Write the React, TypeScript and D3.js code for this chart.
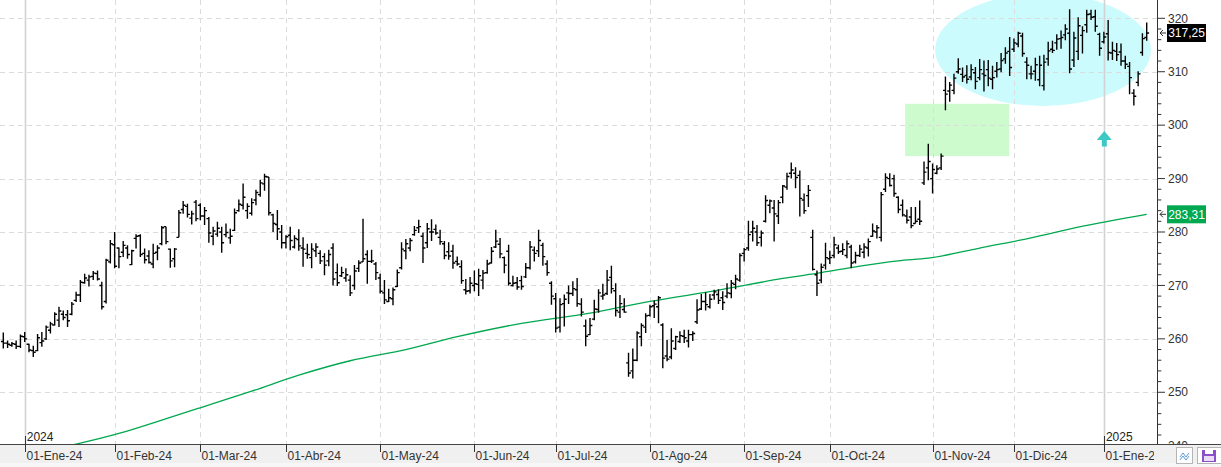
import React from 'react';
import * as d3 from 'd3';

// [open, high, low, close] per trading day
const BARS: number[][] = [
  [259.5,261.2,258.2,259.2],[259.2,259.7,258.3,259.0],[258.8,259.4,258.5,259.1],[259.0,259.7,258.1,258.6],[258.6,260.8,258.3,260.5],
  [260.4,261.3,259.4,260.0],[259.0,259.1,257.5,257.9],[257.8,258.7,256.6,257.5],[257.8,260.9,257.7,260.2],[259.3,261.3,258.5,259.6],
  [260.0,262.5,259.8,262.2],[261.6,263.2,261.0,262.8],[262.6,265.0,262.5,264.6],[263.5,266.0,262.2,265.2],[264.6,265.3,263.5,264.0],
  [264.5,265.4,262.2,263.4],[264.6,266.9,264.4,266.5],[267.2,268.8,266.9,268.2],[268.2,271.0,266.9,270.6],[270.5,272.2,270.3,271.4],
  [271.0,272.0,269.8,271.6],[271.7,272.7,271.0,272.3],[272.2,272.8,270.9,271.2],[270.0,270.7,265.5,266.0],[267.0,275.0,266.6,274.7],
  [274.4,278.5,274.1,277.8],[277.6,280.0,273.2,273.6],[277.0,277.1,273.2,275.4],[276.2,278.3,275.3,277.5],[277.0,277.5,275.0,275.8],
  [273.9,276.7,273.8,276.5],[278.8,279.6,276.9,279.2],[279.3,279.6,275.3,275.8],[276.0,276.9,274.1,274.8],[275.5,276.6,274.1,274.3],
  [274.0,277.8,273.2,276.0],[276.2,277.5,274.7,277.0],[277.8,281.1,277.5,280.8],[281.0,281.0,277.7,278.2],[276.8,276.9,273.3,274.6],
  [275.0,277.0,273.4,276.8],[279.0,284.1,279.0,283.6],[284.2,285.8,283.4,285.0],[284.8,285.3,282.7,283.3],[282.6,284.0,281.4,283.4],
  [285.6,286.0,282.0,282.5],[285.0,285.4,282.2,283.0],[283.0,284.7,281.3,284.0],[282.5,282.8,278.0,279.8],[279.2,281.0,277.5,280.2],
  [279.6,281.9,279.1,280.7],[280.0,281.0,276.1,278.0],[279.5,281.6,279.0,279.9],[278.9,280.6,277.8,279.2],[280.3,284.4,280.2,283.6],
  [284.0,286.1,283.8,285.2],[285.0,289.1,284.2,286.5],[284.0,285.4,282.5,284.8],[283.5,286.3,283.1,285.5],[286.0,287.9,285.0,287.4],
  [287.0,289.8,286.6,289.2],[289.0,290.9,287.7,290.4],[290.3,290.3,283.1,283.6],[283.2,283.4,280.0,281.6],[281.4,284.1,278.5,280.6],
  [280.0,281.3,276.9,278.0],[278.0,279.4,276.9,279.1],[279.4,281.0,276.6,278.4],[277.2,279.4,276.9,278.8],[278.6,280.5,276.5,277.4],
  [277.0,279.0,273.5,276.8],[276.0,277.8,275.0,275.8],[275.2,277.9,273.2,276.8],[276.5,277.9,275.3,277.2],[276.0,276.6,274.0,274.6],
  [275.4,276.0,271.9,273.8],[274.6,276.7,273.6,275.8],[277.0,277.9,270.0,271.2],[272.4,274.1,269.9,270.5],[271.8,273.5,271.6,272.4],
  [271.4,273.2,270.7,272.0],[271.0,271.9,268.0,268.6],[270.0,273.8,269.2,272.7],[273.2,274.7,272.5,274.2],[274.4,282.5,274.4,275.0],
  [275.8,276.6,270.3,274.5],[274.5,276.7,274.2,274.6],[274.0,274.4,271.0,272.4],[271.4,272.2,268.5,268.9],[268.6,271.0,266.5,267.3],
  [267.0,269.4,266.9,267.7],[267.5,269.6,266.3,269.2],[269.8,273.0,269.7,272.4],[273.3,278.1,273.0,276.8],[276.5,278.7,274.9,277.8],
  [277.0,278.9,276.4,278.4],[279.5,281.1,279.3,280.3],[280.8,282.3,279.8,281.0],[279.2,279.9,274.2,277.0],[278.0,281.7,277.0,280.6],
  [280.0,282.4,278.3,280.0],[280.5,281.4,279.5,279.8],[279.0,280.4,277.6,278.2],[277.8,278.3,274.9,275.6],[276.3,278.1,274.8,275.5],
  [276.4,277.6,273.1,274.2],[274.5,275.4,273.7,274.0],[273.5,274.7,270.3,270.9],[269.2,271.2,268.3,268.9],[269.0,271.6,268.5,270.4],
  [270.0,272.8,268.9,270.3],[270.2,273.1,268.0,271.8],[271.0,272.9,269.3,272.3],[272.4,274.8,272.2,274.0],[274.2,277.2,274.1,276.4],
  [277.2,280.4,277.0,278.3],[277.7,278.9,275.1,275.9],[275.2,275.4,272.3,273.8],[276.4,277.6,270.0,270.4],[270.0,271.8,269.8,270.4],
  [270.5,271.6,269.2,269.7],[270.9,271.8,269.2,269.8],[271.6,274.2,271.4,273.3],[273.3,278.3,273.0,277.2],[276.6,277.3,274.5,276.0],
  [276.5,280.4,275.3,278.4],[277.5,278.0,273.7,275.4],[274.0,274.7,271.8,272.4],[270.4,270.8,266.4,268.0],[267.5,268.6,261.2,262.0],
  [262.2,267.6,261.2,266.4],[266.6,268.3,262.3,267.4],[268.6,270.0,266.5,268.5],[268.5,270.8,268.0,269.4],[269.2,271.4,266.0,266.6],
  [266.5,267.6,264.2,265.0],[262.4,263.6,258.6,260.5],[260.8,263.9,260.7,262.5],[263.7,267.3,263.5,265.6],[265.5,269.3,264.9,268.6],
  [268.0,270.3,267.3,268.2],[268.5,272.9,268.2,271.0],[271.5,273.7,268.5,269.4],[269.0,270.4,264.2,265.3],[265.0,268.2,263.9,266.6],
  [265.5,267.6,264.9,265.0],[255.5,257.4,252.9,253.6],[254.0,258.2,252.6,256.0],[256.0,261.4,255.8,261.1],[260.4,262.9,258.6,262.5],
  [262.2,264.8,261.1,264.3],[264.4,266.4,264.2,266.0],[266.2,267.2,263.9,266.5],[266.0,268.0,262.9,267.7],[262.6,262.9,254.5,256.4],
  [256.8,259.8,255.8,256.2],[256.6,262.0,256.2,259.6],[258.2,260.6,257.9,260.4],[259.5,261.4,259.2,260.6],[260.5,261.7,259.2,260.2],
  [259.6,261.7,258.4,260.8],[260.8,261.4,259.6,261.0],[263.2,267.4,262.8,265.4],[265.6,268.4,265.4,267.0],[267.0,268.7,265.3,266.4],
  [266.0,268.4,265.7,267.4],[268.2,269.2,267.3,268.8],[268.3,269.3,266.5,267.2],[267.7,268.9,265.4,266.8],[268.0,270.4,267.6,268.6],
  [268.5,271.0,267.6,270.4],[270.2,272.0,269.3,271.2],[271.0,276.0,270.7,275.6],[276.0,277.0,274.5,276.7],[277.0,282.1,276.5,279.5],
  [280.0,282.1,278.2,280.7],[280.0,281.3,277.4,278.0],[279.0,280.3,277.3,279.8],[282.0,286.9,281.8,285.9],[285.0,286.1,283.5,285.8],
  [284.5,286.0,278.2,283.4],[283.0,286.0,281.5,285.5],[286.5,288.8,285.4,288.6],[288.4,291.1,287.9,290.4],[291.0,293.0,290.0,291.6],
  [291.0,292.1,288.2,290.2],[290.6,291.5,282.9,286.3],[286.0,287.2,283.4,284.0],[286.8,288.8,284.7,287.8],[279.0,280.4,272.8,273.0],
  [272.0,272.8,268.0,270.4],[271.0,274.1,270.4,273.4],[273.8,278.0,273.0,275.2],[275.0,276.5,274.0,275.2],[275.6,279.1,275.1,277.6],
  [277.0,277.6,275.9,276.3],[276.4,277.9,275.7,276.7],[275.6,278.4,275.1,277.8],[277.2,277.6,273.2,274.2],[274.4,276.3,274.1,275.6],
  [275.6,277.6,275.3,276.8],[276.2,277.9,275.1,277.2],[277.0,278.8,275.4,278.2],[279.2,281.6,279.1,280.2],[280.0,281.3,278.8,280.8],
  [279.0,287.5,278.2,287.0],[288.0,291.0,287.5,290.2],[290.0,291.0,288.5,288.7],[290.0,290.7,286.6,287.2],[286.5,286.7,283.5,284.2],
  [285.0,286.1,282.9,283.2],[283.0,284.2,281.6,282.2],[282.8,284.7,280.7,281.2],[281.6,284.7,281.6,282.0],[282.4,285.9,281.3,282.0],
  [289.2,293.2,288.8,291.2],[292.0,296.5,289.7,293.2],[290.0,292.8,287.2,291.7],[291.0,292.5,290.8,291.8],[292.0,294.7,291.6,294.2],
  [306.5,309.1,302.8,305.8],[306.4,308.1,304.4,307.5],[306.5,309.6,305.8,308.8],[310.0,312.5,309.6,310.5],[309.5,310.8,308.1,309.0],
  [309.3,311.2,307.8,308.6],[309.0,311.4,308.4,310.4],[309.8,310.9,306.7,308.2],[308.9,312.4,308.4,310.4],[309.6,312.1,306.3,309.3],
  [310.4,312.2,307.3,308.8],[308.6,311.1,306.7,308.9],[310.1,311.8,308.9,310.4],[310.5,313.5,309.9,312.1],[312.4,314.6,311.5,313.5],
  [313.8,316.5,309.2,310.8],[314.2,316.2,313.7,315.4],[315.2,317.5,314.6,317.2],[316.7,317.3,312.8,313.4],[311.8,312.7,308.6,311.2],
  [309.6,311.1,308.6,309.6],[310.1,312.6,308.3,311.3],[308.5,313.0,307.3,311.2],[307.4,313.2,306.5,311.8],[312.4,315.6,311.1,313.9],
  [314.2,315.8,313.5,314.0],[315.4,317.0,314.1,316.1],[316.2,317.7,314.3,316.4],[316.9,318.9,315.9,318.0],[317.2,321.7,309.7,310.5],
  [312.2,317.5,310.9,316.3],[313.8,320.2,312.2,318.6],[316.8,318.5,313.4,317.7],[318.8,321.6,317.3,320.7],[320.8,321.6,319.7,320.2],
  [320.3,321.6,317.5,318.5],[317.0,317.3,313.0,314.4],[315.6,317.5,315.3,316.5],[317.1,319.7,312.1,313.6],[313.5,315.6,312.2,314.0],
  [313.8,315.4,312.0,313.2],[313.7,315.3,311.1,312.0],[312.0,313.0,310.5,311.4],[311.0,311.8,305.8,308.9],[306.0,306.7,303.7,305.4],
  [308.0,310.1,307.3,309.6],[313.6,317.2,313.0,316.2],[316.4,319.2,315.8,317.25],
];

// 200-session moving average, read at selected bars
const MA_BAR = [14, 18, 28, 38, 47, 59, 70, 82, 95, 107, 122, 138, 152, 168, 183, 192, 201, 210, 217, 229, 241, 252, 268];
const MA_VAL = [239.6, 240.3, 242.3, 244.8, 247.1, 250.2, 253.2, 255.9, 258.0, 260.4, 262.9, 264.8, 267.0, 269.1, 271.3, 272.4, 273.6, 274.6, 275.1, 277.0, 278.9, 280.9, 283.31];

const MONTH_LABELS = ['01-Ene-24','01-Feb-24','01-Mar-24','01-Abr-24','01-May-24','01-Jun-24','01-Jul-24','01-Ago-24','01-Sep-24','01-Oct-24','01-Nov-24','01-Dic-24','01-Ene-25'];
const MONTH_BAR = [6, 27, 47, 67, 89, 111, 130, 152, 174, 194, 218, 237, 258];
const YEAR_LABELS = ['2024', '2025'];
const YEAR_BAR = [6, 258];
const Y_TICKS = [240, 250, 260, 270, 280, 290, 300, 310, 320];
const LAST_CLOSE = 317.25;
const LAST_MA = 283.31;

const FONT = '"Liberation Sans", Arial, sans-serif';

export default function App() {
  const W = 1221, H = 467;
  const axisX = 1157.5;
  const axisY = 444;
  const x = d3.scaleLinear().domain([1, BARS.length]).range([3.3, 1146.7]);
  const y = d3.scaleLinear().domain([240, 320]).range([445.7, 18.3]);

  const minor = d3.range(240, 321, 2);
  const maLine = d3.line<number>()
    .x((_, i) => x(MA_BAR[i]))
    .y((v) => y(v))
    .curve(d3.curveMonotoneX)(MA_VAL) || '';

  const barPath = BARS.map((b, i) => {
    const cx = x(i + 1);
    return `M${cx},${y(b[1])}V${y(b[2])}M${cx - 2.4},${y(b[0])}H${cx}M${cx},${y(b[3])}H${cx + 2.4}`;
  }).join('');

  // annotations in data coordinates
  const ellCx = x(243.8), ellCy = y(314.1);
  const ellRx = x(243.8 + 25.2) - x(243.8), ellRy = y(303.6) - y(314.1);
  const recX0 = x(211.6), recX1 = x(235.9), recY0 = y(304.0), recY1 = y(294.2);
  const arX = x(258.1), arTop = y(298.9), arBot = y(296.0);

  const fmt = (v: number) => v.toFixed(2).replace('.', ',');

  return (
    <svg width={W} height={H} style={{ position: 'fixed', left: 0, top: 0, background: '#fff' }} fontFamily={FONT}>
      <defs>
        <clipPath id="plot"><rect x={0} y={0} width={axisX} height={axisY} /></clipPath>
        <clipPath id="xlab"><rect x={0} y={axisY} width={1154} height={H - axisY} /></clipPath>
      </defs>
      <rect x={0} y={0} width={W} height={H} fill="#fff" />
      <g clipPath="url(#plot)">
        <ellipse cx={ellCx} cy={ellCy} rx={ellRx} ry={ellRy} fill="#cbfbfd" />
        <rect x={recX0} y={recY0} width={recX1 - recX0} height={recY1 - recY0} fill="#cdfbcd" />
        {Y_TICKS.map((t) => (
          <line key={t} x1={0} x2={axisX} y1={Math.round(y(t)) + 0.5} y2={Math.round(y(t)) + 0.5} stroke="#dcdcdc" strokeDasharray="5,4" />
        ))}
        {MONTH_BAR.map((b, i) => {
          const isYear = YEAR_BAR.includes(b);
          const gx = Math.round(x(b)) + 0.5;
          return (
            <line key={i} x1={gx} x2={gx} y1={0} y2={axisY} stroke={isYear ? '#d2d2d2' : '#dcdcdc'}
              strokeWidth={isYear ? 1.6 : 1} strokeDasharray={isYear ? undefined : '5,4'} />
          );
        })}
        <path d={`M${arX},${arTop}L${arX + 7.5},${arTop + 9}H${arX + 2.5}V${arBot}H${arX - 2.5}V${arTop + 9}H${arX - 7.5}Z`} fill="#3cc9c6" />
        <path d={maLine} fill="none" stroke="#00a84f" strokeWidth={1.3} />
        <path d={barPath} fill="none" stroke="#000" strokeWidth={1.4} />
        {YEAR_BAR.map((b, i) => (
          <g key={i}>
            <line x1={Math.round(x(b)) + 0.5} x2={Math.round(x(b)) + 0.5} y1={436} y2={axisY} stroke="#333" />
            <text x={x(b) + 2} y={441} fontSize={12} fill="#222">{YEAR_LABELS[i]}</text>
          </g>
        ))}
      </g>

      {minor.map((t) => (
        <line key={t} x1={axisX} x2={axisX + (t % 10 === 0 ? 7.5 : 3.8)} y1={y(t)} y2={y(t)} stroke="#333" />
      ))}
      {Y_TICKS.map((t) => (
        <text key={t} x={1168} y={y(t)} dy="0.35em" fontSize={12} fill="#333">{t}</text>
      ))}

      <path d={`M1166,${y(LAST_CLOSE)}H1160M1163,${y(LAST_CLOSE) - 3}L1160,${y(LAST_CLOSE)}L1163,${y(LAST_CLOSE) + 3}`} stroke="#333" fill="none" />
      <rect x={1167} y={y(LAST_CLOSE) - 9} width={39} height={18} fill="#000" />
      <text x={1186.5} y={y(LAST_CLOSE)} dy="0.36em" textAnchor="middle" fontSize={12} fill="#fff">{fmt(LAST_CLOSE)}</text>
      <path d={`M1166,${y(LAST_MA)}H1160M1163,${y(LAST_MA) - 3}L1160,${y(LAST_MA)}L1163,${y(LAST_MA) + 3}`} stroke="#333" fill="none" />
      <rect x={1167} y={y(LAST_MA) - 9} width={39} height={18} fill="#00a84f" />
      <text x={1186.5} y={y(LAST_MA)} dy="0.36em" textAnchor="middle" fontSize={12} fill="#fff">{fmt(LAST_MA)}</text>

      <rect x={0} y={axisY} width={W} height={H - axisY} fill="#f0f0f0" />
      <rect x={0} y={463} width={W} height={4} fill="#f7f7f7" />
      <line x1={axisX} x2={axisX} y1={0} y2={axisY} stroke="#333" />
      <line x1={0} x2={W} y1={axisY + 0.5} y2={axisY + 0.5} stroke="#444" />
      <g clipPath="url(#xlab)">
        {MONTH_BAR.map((b, i) => {
          const gx = Math.round(x(b)) + 0.5;
          return (
            <g key={i}>
              <line x1={gx} x2={gx} y1={axisY} y2={452} stroke="#333" />
              <text x={gx + 1} y={460} fontSize={12} fill="#333">{MONTH_LABELS[i]}</text>
            </g>
          );
        })}
      </g>
      <rect x={1176.5} y={447.5} width={16} height={16} fill="#fff" stroke="#b5b5b5" />
      <path d="M1180,457L1183,453L1186,457L1189,453M1180,460L1183,456L1186,460L1189,456" fill="none" stroke="#5a9bd8" strokeWidth={1} />
      <rect x={1197.5} y={447.5} width={24} height={16} fill="#fff" stroke="#b5b5b5" />
      <rect x={1202} y={450} width={14} height={12} fill="#8b4fc9" />
      <rect x={1205} y={450} width={8} height={4} fill="#fff" />
      <rect x={1204} y={456} width={10} height={5} fill="#e9dcf5" />
    </svg>
  );
}
